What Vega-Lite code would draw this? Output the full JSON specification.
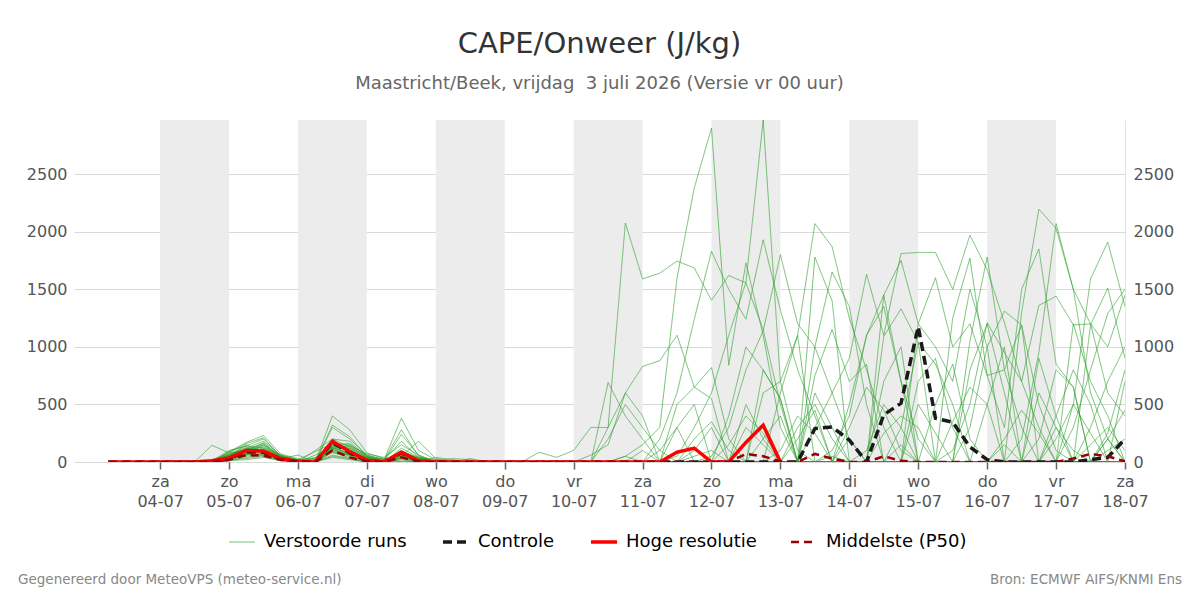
{
"$schema": "https://vega.github.io/schema/vega-lite/v6.json",
"width": 1051, "height": 342,
"autosize": {"type": "none"},
"padding": {"left": 74, "top": 120, "right": 75, "bottom": 138},
"background": "white",
"config": {
  "font": "DejaVu Sans",
  "view": {"stroke": null},
  "legend": {"orient": "bottom", "direction": "horizontal", "labelFontSize": 18, "labelColor": "#000000", "symbolSize": 676, "columnPadding": 29, "labelOffset": 13, "offset": 24, "labelFont": "DejaVu Sans", "layout": {"bottom": {"anchor": "middle"}}}
},
"title": {"text": "CAPE/Onweer (J/kg)", "subtitle": "Maastricht/Beek, vrijdag \u00a03 juli 2026 (Versie vr 00 uur)", "fontSize": 29, "fontWeight": "normal", "color": "#333333", "subtitleFontSize": 18, "subtitleColor": "#666666", "anchor": "middle", "offset": 27, "subtitlePadding": 16, "font": "DejaVu Sans", "subtitleFont": "DejaVu Sans"},
"datasets": {
"bands": [
{"s":"2026-07-04T00:00","e":"2026-07-05T00:00"},
{"s":"2026-07-06T00:00","e":"2026-07-07T00:00"},
{"s":"2026-07-08T00:00","e":"2026-07-09T00:00"},
{"s":"2026-07-10T00:00","e":"2026-07-11T00:00"},
{"s":"2026-07-12T00:00","e":"2026-07-13T00:00"},
{"s":"2026-07-14T00:00","e":"2026-07-15T00:00"},
{"s":"2026-07-16T00:00","e":"2026-07-17T00:00"}
],
"w": [
{"time":"2026-07-03T06:00","ctl":0,"hr":0,"med":0,"a":0,"b":0,"c":0,"d":0,"e":0,"f":0,"g":0,"h":0,"i":0,"j":0,"k":0,"l":0,"m":0,"n":0,"o":0,"p":0,"q":0,"r":0,"s":0,"t":0,"u":0,"v":0,"w":0,"x":0,"y":0,"z":0,"A":0,"B":0},
{"time":"2026-07-03T12:00","ctl":0,"hr":0,"med":0,"a":0,"b":0,"c":0,"d":0,"e":0,"f":0,"g":0,"h":0,"i":0,"j":0,"k":0,"l":0,"m":0,"n":0,"o":0,"p":0,"q":0,"r":0,"s":0,"t":0,"u":0,"v":0,"w":0,"x":0,"y":0,"z":0,"A":0,"B":0},
{"time":"2026-07-03T18:00","ctl":0,"hr":0,"med":0,"a":0,"b":0,"c":0,"d":0,"e":0,"f":0,"g":0,"h":0,"i":0,"j":0,"k":0,"l":0,"m":0,"n":0,"o":0,"p":0,"q":0,"r":0,"s":0,"t":0,"u":0,"v":0,"w":0,"x":0,"y":0,"z":0,"A":0,"B":0},
{"time":"2026-07-04T00:00","ctl":0,"hr":0,"med":0,"a":0,"b":0,"c":0,"d":0,"e":0,"f":0,"g":0,"h":0,"i":0,"j":0,"k":0,"l":0,"m":0,"n":0,"o":0,"p":0,"q":0,"r":0,"s":0,"t":0,"u":0,"v":0,"w":0,"x":0,"y":0,"z":0,"A":0,"B":0},
{"time":"2026-07-04T06:00","ctl":0,"hr":0,"med":0,"a":0,"b":0,"c":0,"d":0,"e":0,"f":0,"g":0,"h":0,"i":0,"j":0,"k":0,"l":0,"m":0,"n":0,"o":0,"p":0,"q":0,"r":0,"s":0,"t":0,"u":0,"v":0,"w":0,"x":0,"y":0,"z":0,"A":0,"B":0},
{"time":"2026-07-04T12:00","ctl":0,"hr":0,"med":0,"a":0,"b":0,"c":0,"d":0,"e":0,"f":0,"g":0,"h":10,"i":0,"j":0,"k":0,"l":0,"m":0,"n":0,"o":0,"p":0,"q":0,"r":0,"s":0,"t":0,"u":0,"v":0,"w":0,"x":0,"y":0,"z":0,"A":0,"B":0},
{"time":"2026-07-04T18:00","ctl":0,"hr":10,"med":0,"a":10,"b":0,"c":145,"d":0,"e":0,"f":10,"g":0,"h":20,"i":0,"j":0,"k":0,"l":0,"m":5,"n":0,"o":0,"p":10,"q":0,"r":0,"s":0,"t":0,"u":0,"v":0,"w":0,"x":0,"y":0,"z":0,"A":0,"B":0},
{"time":"2026-07-05T00:00","ctl":30,"hr":35,"med":20,"a":60,"b":40,"c":80,"d":90,"e":20,"f":100,"g":30,"h":70,"i":50,"j":10,"k":80,"l":40,"m":60,"n":20,"o":70,"p":50,"q":30,"r":60,"s":40,"t":20,"u":90,"v":50,"w":10,"x":60,"y":30,"z":40,"A":30,"B":60},
{"time":"2026-07-05T06:00","ctl":90,"hr":100,"med":60,"a":120,"b":80,"c":100,"d":170,"e":60,"f":140,"g":90,"h":110,"i":150,"j":40,"k":160,"l":70,"m":110,"n":30,"o":130,"p":100,"q":60,"r":120,"s":90,"t":50,"u":140,"v":80,"w":20,"x":100,"y":70,"z":80,"A":70,"B":110},
{"time":"2026-07-05T12:00","ctl":85,"hr":95,"med":55,"a":90,"b":150,"c":60,"d":230,"e":110,"f":200,"g":170,"h":130,"i":80,"j":60,"k":210,"l":100,"m":150,"n":50,"o":90,"p":120,"q":80,"r":180,"s":100,"t":70,"u":120,"v":140,"w":40,"x":90,"y":60,"z":110,"A":90,"B":160},
{"time":"2026-07-05T18:00","ctl":25,"hr":30,"med":20,"a":30,"b":60,"c":20,"d":70,"e":40,"f":50,"g":40,"h":60,"i":30,"j":20,"k":50,"l":30,"m":40,"n":10,"o":30,"p":50,"q":20,"r":60,"s":30,"t":20,"u":50,"v":40,"w":10,"x":30,"y":20,"z":40,"A":30,"B":50},
{"time":"2026-07-06T00:00","ctl":0,"hr":5,"med":5,"a":10,"b":20,"c":0,"d":30,"e":0,"f":20,"g":10,"h":10,"i":60,"j":0,"k":0,"l":10,"m":0,"n":0,"o":20,"p":0,"q":0,"r":20,"s":10,"t":0,"u":10,"v":0,"w":0,"x":0,"y":0,"z":10,"A":0,"B":10},
{"time":"2026-07-06T06:00","ctl":0,"hr":0,"med":0,"a":20,"b":30,"c":10,"d":0,"e":0,"f":90,"g":0,"h":0,"i":0,"j":0,"k":100,"l":0,"m":20,"n":0,"o":0,"p":60,"q":0,"r":0,"s":0,"t":0,"u":40,"v":0,"w":0,"x":30,"y":0,"z":0,"A":0,"B":0},
{"time":"2026-07-06T12:00","ctl":170,"hr":180,"med":100,"a":150,"b":180,"c":90,"d":300,"e":400,"f":160,"g":150,"h":200,"i":120,"j":60,"k":200,"l":130,"m":150,"n":80,"o":170,"p":130,"q":100,"r":320,"s":140,"t":50,"u":120,"v":110,"w":40,"x":160,"y":90,"z":120,"A":110,"B":130},
{"time":"2026-07-06T18:00","ctl":80,"hr":90,"med":40,"a":120,"b":90,"c":60,"d":200,"e":280,"f":150,"g":100,"h":130,"i":80,"j":30,"k":180,"l":70,"m":160,"n":40,"o":110,"p":140,"q":60,"r":220,"s":90,"t":30,"u":120,"v":70,"w":20,"x":100,"y":50,"z":80,"A":60,"B":140},
{"time":"2026-07-07T00:00","ctl":10,"hr":15,"med":5,"a":40,"b":20,"c":30,"d":60,"e":80,"f":60,"g":30,"h":50,"i":40,"j":0,"k":40,"l":20,"m":50,"n":10,"o":30,"p":70,"q":20,"r":50,"s":30,"t":0,"u":40,"v":10,"w":0,"x":30,"y":10,"z":20,"A":20,"B":40},
{"time":"2026-07-07T06:00","ctl":0,"hr":0,"med":0,"a":10,"b":0,"c":0,"d":20,"e":30,"f":20,"g":0,"h":10,"i":30,"j":0,"k":10,"l":0,"m":0,"n":0,"o":0,"p":40,"q":0,"r":20,"s":0,"t":0,"u":10,"v":0,"w":0,"x":0,"y":0,"z":0,"A":0,"B":0},
{"time":"2026-07-07T12:00","ctl":80,"hr":85,"med":40,"a":60,"b":120,"c":30,"d":380,"e":50,"f":280,"g":100,"h":90,"i":0,"j":30,"k":240,"l":50,"m":70,"n":20,"o":70,"p":150,"q":40,"r":180,"s":60,"t":10,"u":60,"v":80,"w":0,"x":40,"y":50,"z":60,"A":40,"B":90},
{"time":"2026-07-07T18:00","ctl":5,"hr":10,"med":5,"a":20,"b":40,"c":10,"d":100,"e":180,"f":50,"g":30,"h":20,"i":0,"j":0,"k":60,"l":30,"m":10,"n":0,"o":40,"p":60,"q":10,"r":40,"s":20,"t":0,"u":30,"v":10,"w":0,"x":20,"y":10,"z":20,"A":10,"B":40},
{"time":"2026-07-08T00:00","ctl":0,"hr":0,"med":0,"a":10,"b":0,"c":0,"d":20,"e":30,"f":10,"g":0,"h":0,"i":40,"j":0,"k":0,"l":10,"m":0,"n":0,"o":20,"p":0,"q":0,"r":0,"s":0,"t":0,"u":0,"v":0,"w":0,"x":0,"y":0,"z":0,"A":0,"B":0},
{"time":"2026-07-08T06:00","ctl":0,"hr":0,"med":0,"a":0,"b":0,"c":0,"d":10,"e":0,"f":30,"g":0,"h":0,"i":20,"j":0,"k":0,"l":0,"m":0,"n":0,"o":0,"p":0,"q":0,"r":0,"s":0,"t":0,"u":0,"v":0,"w":0,"x":0,"y":0,"z":0,"A":0,"B":0},
{"time":"2026-07-08T12:00","ctl":0,"hr":0,"med":0,"a":0,"b":0,"c":0,"d":0,"e":0,"f":20,"g":0,"h":30,"i":0,"j":0,"k":0,"l":0,"m":0,"n":0,"o":0,"p":0,"q":0,"r":0,"s":0,"t":0,"u":0,"v":0,"w":0,"x":0,"y":0,"z":0,"A":0,"B":0},
{"time":"2026-07-08T18:00","ctl":0,"hr":0,"med":0,"a":0,"b":0,"c":0,"d":0,"e":0,"f":0,"g":0,"h":0,"i":0,"j":0,"k":0,"l":10,"m":0,"n":0,"o":0,"p":0,"q":0,"r":0,"s":0,"t":0,"u":0,"v":0,"w":0,"x":0,"y":0,"z":0,"A":0,"B":0},
{"time":"2026-07-09T00:00","ctl":0,"hr":0,"med":0,"a":0,"b":0,"c":0,"d":0,"e":0,"f":0,"g":0,"h":0,"i":0,"j":0,"k":0,"l":0,"m":0,"n":0,"o":0,"p":0,"q":0,"r":0,"s":0,"t":0,"u":0,"v":0,"w":0,"x":0,"y":0,"z":0,"A":0,"B":0},
{"time":"2026-07-09T06:00","ctl":0,"hr":0,"med":0,"a":0,"b":0,"c":0,"d":0,"e":0,"f":0,"g":0,"h":0,"i":0,"j":0,"k":0,"l":0,"m":0,"n":0,"o":0,"p":0,"q":0,"r":0,"s":0,"t":0,"u":0,"v":0,"w":0,"x":0,"y":0,"z":0,"A":0,"B":0},
{"time":"2026-07-09T12:00","ctl":0,"hr":0,"med":0,"a":0,"b":0,"c":85,"d":0,"e":0,"f":0,"g":0,"h":0,"i":0,"j":0,"k":0,"l":0,"m":0,"n":0,"o":0,"p":0,"q":0,"r":0,"s":0,"t":0,"u":0,"v":0,"w":0,"x":0,"y":0,"z":0,"A":0,"B":0},
{"time":"2026-07-09T18:00","ctl":0,"hr":0,"med":0,"a":0,"b":0,"c":40,"d":0,"e":0,"f":0,"g":0,"h":0,"i":0,"j":0,"k":0,"l":0,"m":0,"n":0,"o":0,"p":0,"q":0,"r":0,"s":0,"t":0,"u":0,"v":0,"w":0,"x":0,"y":0,"z":0,"A":0,"B":0},
{"time":"2026-07-10T00:00","ctl":0,"hr":0,"med":0,"a":0,"b":0,"c":100,"d":0,"e":0,"f":0,"g":0,"h":0,"i":0,"j":0,"k":0,"l":0,"m":0,"n":0,"o":0,"p":0,"q":0,"r":0,"s":0,"t":0,"u":0,"v":0,"w":0,"x":0,"y":0,"z":0,"A":0,"B":0},
{"time":"2026-07-10T06:00","ctl":0,"hr":0,"med":0,"a":0,"b":0,"c":300,"d":0,"e":0,"f":0,"g":0,"h":60,"i":0,"j":0,"k":0,"l":0,"m":0,"n":0,"o":0,"p":0,"q":0,"r":0,"s":0,"t":0,"u":0,"v":0,"w":0,"x":0,"y":0,"z":0,"A":0,"B":0},
{"time":"2026-07-10T12:00","ctl":0,"hr":0,"med":0,"a":0,"b":0,"c":300,"d":0,"e":0,"f":0,"g":0,"h":150,"i":0,"j":0,"k":690,"l":0,"m":0,"n":0,"o":200,"p":0,"q":0,"r":0,"s":0,"t":0,"u":0,"v":0,"w":0,"x":300,"y":0,"z":0,"A":0,"B":0},
{"time":"2026-07-10T18:00","ctl":0,"hr":0,"med":0,"a":50,"b":0,"c":2075,"d":0,"e":0,"f":0,"g":0,"h":600,"i":0,"j":0,"k":400,"l":0,"m":0,"n":0,"o":500,"p":0,"q":0,"r":0,"s":0,"t":0,"u":0,"v":0,"w":0,"x":600,"y":0,"z":50,"A":0,"B":0},
{"time":"2026-07-11T00:00","ctl":0,"hr":0,"med":0,"a":150,"b":0,"c":1590,"d":0,"e":0,"f":0,"g":0,"h":830,"i":0,"j":0,"k":200,"l":0,"m":0,"n":0,"o":300,"p":0,"q":0,"r":0,"s":0,"t":100,"u":0,"v":0,"w":0,"x":400,"y":0,"z":0,"A":0,"B":0},
{"time":"2026-07-11T06:00","ctl":0,"hr":0,"med":0,"a":300,"b":0,"c":1640,"d":200,"e":0,"f":0,"g":0,"h":880,"i":0,"j":0,"k":0,"l":0,"m":0,"n":0,"o":100,"p":0,"q":0,"r":0,"s":0,"t":0,"u":0,"v":0,"w":0,"x":0,"y":0,"z":0,"A":0,"B":100},
{"time":"2026-07-11T12:00","ctl":0,"hr":85,"med":0,"a":1600,"b":50,"c":1745,"d":600,"e":0,"f":0,"g":0,"h":1100,"i":0,"j":0,"k":0,"l":0,"m":500,"n":0,"o":0,"p":300,"q":0,"r":0,"s":0,"t":0,"u":0,"v":0,"w":0,"x":0,"y":0,"z":0,"A":0,"B":300},
{"time":"2026-07-11T18:00","ctl":0,"hr":120,"med":0,"a":2380,"b":300,"c":1685,"d":1240,"e":0,"f":0,"g":0,"h":650,"i":0,"j":0,"k":0,"l":0,"m":650,"n":50,"o":0,"p":500,"q":0,"r":0,"s":0,"t":200,"u":0,"v":100,"w":0,"x":0,"y":0,"z":0,"A":0,"B":0},
{"time":"2026-07-12T00:00","ctl":0,"hr":0,"med":0,"a":2900,"b":600,"c":1405,"d":1830,"e":50,"f":0,"g":0,"h":820,"i":0,"j":0,"k":0,"l":0,"m":550,"n":100,"o":0,"p":0,"q":0,"r":0,"s":0,"t":350,"u":0,"v":300,"w":0,"x":0,"y":0,"z":0,"A":0,"B":0},
{"time":"2026-07-12T06:00","ctl":0,"hr":0,"med":0,"a":840,"b":1100,"c":1620,"d":1500,"e":300,"f":0,"g":0,"h":200,"i":0,"j":0,"k":0,"l":0,"m":0,"n":0,"o":0,"p":0,"q":0,"r":0,"s":400,"t":100,"u":0,"v":0,"w":0,"x":0,"y":150,"z":0,"A":0,"B":0},
{"time":"2026-07-12T12:00","ctl":0,"hr":170,"med":70,"a":1730,"b":1560,"c":1555,"d":1240,"e":800,"f":0,"g":0,"h":0,"i":0,"j":0,"k":0,"l":0,"m":0,"n":0,"o":0,"p":0,"q":0,"r":0,"s":1000,"t":0,"u":0,"v":0,"w":0,"x":300,"y":400,"z":0,"A":0,"B":500},
{"time":"2026-07-12T18:00","ctl":0,"hr":320,"med":50,"a":1100,"b":2970,"c":1150,"d":1930,"e":1140,"f":0,"g":0,"h":0,"i":0,"j":0,"k":0,"l":0,"m":600,"n":0,"o":0,"p":800,"q":0,"r":0,"s":800,"t":0,"u":0,"v":0,"w":0,"x":150,"y":250,"z":200,"A":0,"B":200},
{"time":"2026-07-13T00:00","ctl":0,"hr":0,"med":5,"a":300,"b":700,"c":500,"d":1320,"e":1800,"f":600,"g":0,"h":0,"i":0,"j":0,"k":0,"l":0,"m":700,"n":0,"o":0,"p":550,"q":0,"r":0,"s":550,"t":0,"u":0,"v":0,"w":0,"x":0,"y":0,"z":400,"A":100,"B":0},
{"time":"2026-07-13T06:00","ctl":0,"med":0,"a":0,"b":100,"c":0,"d":800,"e":1200,"f":1100,"g":0,"h":0,"i":0,"j":0,"k":0,"l":0,"m":1100,"n":0,"o":200,"p":0,"q":0,"r":0,"s":0,"t":300,"u":0,"v":0,"w":0,"x":0,"y":0,"z":0,"A":400,"B":0},
{"time":"2026-07-13T12:00","ctl":290,"med":70,"a":0,"b":0,"c":0,"d":400,"e":1000,"f":2070,"g":300,"h":0,"i":1000,"j":0,"k":1780,"l":0,"m":0,"n":0,"o":450,"p":0,"q":750,"r":0,"s":0,"t":500,"u":0,"v":600,"w":0,"x":0,"y":0,"z":0,"A":250,"B":0},
{"time":"2026-07-13T18:00","ctl":305,"med":30,"a":100,"b":0,"c":0,"d":0,"e":600,"f":1870,"g":600,"h":0,"i":1650,"j":0,"k":1400,"l":0,"m":0,"n":50,"o":0,"p":0,"q":1150,"r":0,"s":0,"t":200,"u":0,"v":300,"w":0,"x":0,"y":0,"z":0,"A":0,"B":0},
{"time":"2026-07-14T00:00","ctl":190,"med":0,"a":400,"b":0,"c":0,"d":0,"e":200,"f":1250,"g":900,"h":0,"i":1350,"j":0,"k":0,"l":0,"m":0,"n":0,"o":0,"p":0,"q":700,"r":0,"s":0,"t":0,"u":500,"v":0,"w":0,"x":0,"y":300,"z":200,"A":0,"B":0},
{"time":"2026-07-14T06:00","ctl":0,"med":0,"a":1100,"b":0,"c":0,"d":0,"e":0,"f":800,"g":1630,"h":0,"i":500,"j":0,"k":0,"l":0,"m":0,"n":0,"o":0,"p":0,"q":850,"r":0,"s":0,"t":0,"u":1100,"v":0,"w":100,"x":0,"y":650,"z":0,"A":0,"B":0},
{"time":"2026-07-14T12:00","ctl":410,"med":50,"a":1350,"b":0,"c":0,"d":0,"e":0,"f":300,"g":1100,"h":0,"i":0,"j":1450,"k":0,"l":0,"m":0,"n":0,"o":0,"p":1090,"q":0,"r":0,"s":0,"t":250,"u":1450,"v":0,"w":500,"x":0,"y":450,"z":0,"A":0,"B":700},
{"time":"2026-07-14T18:00","ctl":510,"med":10,"a":700,"b":300,"c":0,"d":0,"e":0,"f":0,"g":1810,"h":0,"i":0,"j":1750,"k":0,"l":0,"m":0,"n":150,"o":0,"p":1330,"q":0,"r":0,"s":0,"t":400,"u":700,"v":0,"w":300,"x":0,"y":100,"z":0,"A":0,"B":1000},
{"time":"2026-07-15T00:00","ctl":1175,"med":0,"a":200,"b":1040,"c":0,"d":0,"e":0,"f":0,"g":1820,"h":0,"i":0,"j":1200,"k":0,"l":0,"m":0,"n":0,"o":0,"p":1040,"q":0,"r":1200,"s":0,"t":300,"u":0,"v":0,"w":0,"x":500,"y":0,"z":700,"A":0,"B":0},
{"time":"2026-07-15T06:00","ctl":380,"med":0,"a":0,"b":850,"c":0,"d":0,"e":0,"f":0,"g":1820,"h":0,"i":0,"j":1000,"k":0,"l":0,"m":0,"n":0,"o":0,"p":0,"q":0,"r":1600,"s":0,"t":0,"u":0,"v":500,"w":0,"x":250,"y":0,"z":900,"A":0,"B":0},
{"time":"2026-07-15T12:00","ctl":345,"med":0,"a":0,"b":500,"c":100,"d":0,"e":0,"f":0,"g":1500,"h":0,"i":0,"j":700,"k":0,"l":1250,"m":0,"n":0,"o":0,"p":0,"q":0,"r":1000,"s":0,"t":0,"u":0,"v":850,"w":0,"x":0,"y":350,"z":300,"A":0,"B":0},
{"time":"2026-07-15T18:00","ctl":130,"med":0,"a":300,"b":0,"c":500,"d":0,"e":1050,"f":0,"g":1970,"h":0,"i":0,"j":1500,"k":0,"l":1770,"m":0,"n":0,"o":0,"p":0,"q":0,"r":1200,"s":0,"t":0,"u":0,"v":200,"w":0,"x":0,"y":650,"z":0,"A":800,"B":0},
{"time":"2026-07-16T00:00","ctl":20,"med":0,"a":1000,"b":0,"c":1210,"d":0,"e":1780,"f":0,"g":1670,"h":0,"i":0,"j":1000,"k":0,"l":750,"m":0,"n":0,"o":0,"p":0,"q":0,"r":750,"s":0,"t":0,"u":0,"v":0,"w":500,"x":0,"y":500,"z":0,"A":1200,"B":0},
{"time":"2026-07-16T06:00","ctl":0,"med":0,"a":1310,"b":0,"c":950,"d":0,"e":800,"f":0,"g":1210,"h":0,"i":0,"j":0,"k":0,"l":300,"m":0,"n":0,"o":0,"p":0,"q":0,"r":800,"s":0,"t":200,"u":0,"v":0,"w":1000,"x":0,"y":0,"z":150,"A":600,"B":0},
{"time":"2026-07-16T12:00","ctl":0,"med":0,"a":1190,"b":0,"c":700,"d":0,"e":300,"f":200,"g":700,"h":0,"i":1300,"j":0,"k":0,"l":1500,"m":0,"n":0,"o":0,"p":0,"q":0,"r":1190,"s":0,"t":450,"u":0,"v":0,"w":0,"x":0,"y":0,"z":0,"A":0,"B":0},
{"time":"2026-07-16T18:00","ctl":0,"med":0,"a":500,"b":200,"c":1360,"d":0,"e":0,"f":950,"g":300,"h":0,"i":2195,"j":0,"k":0,"l":1850,"m":0,"n":0,"o":900,"p":0,"q":0,"r":0,"s":0,"t":250,"u":0,"v":0,"w":0,"x":0,"y":0,"z":0,"A":0,"B":600},
{"time":"2026-07-17T00:00","ctl":0,"med":0,"a":100,"b":800,"c":1440,"d":0,"e":0,"f":2070,"g":0,"h":0,"i":2030,"j":0,"k":0,"l":850,"m":200,"n":0,"o":400,"p":0,"q":0,"r":0,"s":0,"t":0,"u":0,"v":0,"w":0,"x":300,"y":400,"z":0,"A":0,"B":300},
{"time":"2026-07-17T06:00","ctl":0,"med":30,"a":0,"b":650,"c":1190,"d":300,"e":0,"f":1500,"g":0,"h":0,"i":1500,"j":0,"k":500,"l":650,"m":500,"n":0,"o":0,"p":0,"q":0,"r":0,"s":0,"t":0,"u":0,"v":1200,"w":0,"x":100,"y":800,"z":0,"A":0,"B":0},
{"time":"2026-07-17T12:00","ctl":20,"med":70,"a":0,"b":0,"c":1200,"d":800,"e":0,"f":1200,"g":0,"h":300,"i":600,"j":0,"k":1590,"l":0,"m":250,"n":0,"o":0,"p":0,"q":0,"r":0,"s":1190,"t":150,"u":0,"v":700,"w":0,"x":0,"y":500,"z":0,"A":0,"B":0},
{"time":"2026-07-17T18:00","ctl":40,"med":50,"a":200,"b":0,"c":600,"d":1290,"e":0,"f":1000,"g":0,"h":700,"i":200,"j":0,"k":1910,"l":0,"m":0,"n":100,"o":0,"p":0,"q":0,"r":0,"s":1510,"t":300,"u":0,"v":400,"w":200,"x":0,"y":0,"z":250,"A":0,"B":0},
{"time":"2026-07-18T00:00","ctl":200,"med":5,"a":0,"b":0,"c":400,"d":1500,"e":0,"f":1450,"g":0,"h":1000,"i":0,"j":0,"k":1350,"l":0,"m":0,"n":200,"o":0,"p":0,"q":700,"r":0,"s":900,"t":100,"u":0,"v":0,"w":450,"x":0,"y":0,"z":800,"A":0,"B":0}
]
},
"resolve": {"axis": {"y": "independent"}},
"layer": [
{
  "data": {"name": "bands"},
  "mark": {"type": "rect", "color": "#ececec"},
  "encoding": {
    "x": {"field": "s", "type": "temporal", "title": null,
      "scale": {"domain": [{"year": 2026, "month": 7, "date": 2, "hours": 18}, {"year": 2026, "month": 7, "date": 18, "hours": 0}]},
      "axis": {"values": [{"year":2026,"month":7,"date":4},{"year":2026,"month":7,"date":5},{"year":2026,"month":7,"date":6},{"year":2026,"month":7,"date":7},{"year":2026,"month":7,"date":8},{"year":2026,"month":7,"date":9},{"year":2026,"month":7,"date":10},{"year":2026,"month":7,"date":11},{"year":2026,"month":7,"date":12},{"year":2026,"month":7,"date":13},{"year":2026,"month":7,"date":14},{"year":2026,"month":7,"date":15},{"year":2026,"month":7,"date":16},{"year":2026,"month":7,"date":17},{"year":2026,"month":7,"date":18}],
        "labelExpr": "[['zo','ma','di','wo','do','vr','za'][day(datum.value)], timeFormat(datum.value, '%d-%m')]",
        "grid": false, "domain": false, "ticks": true, "tickColor": "#666666", "tickSize": 7, "tickWidth": 1.5,
        "labelFontSize": 16, "labelColor": "#555555", "labelPadding": 4, "labelLineHeight": 20, "labelFont": "DejaVu Sans", "labelFlush": false, "labelOverlap": false}},
    "x2": {"field": "e"}
  }
},
{
  "data": {"name": "w"},
  "transform": [{"fold": ["a","b","c","d","e","f","g","h","i","j","k","l","m","n","o","p","q","r","s","t","u","v","w","x","y","z","A","B"], "as": ["member", "value"]}],
  "mark": {"type": "line", "clip": true, "strokeWidth": 1},
  "encoding": {
    "x": {"field": "time", "type": "temporal", "title": null},
    "y": {"field": "value", "type": "quantitative", "title": null, "scale": {"domain": [0, 2970], "nice": false},
      "axis": {"orient": "left", "values": [0, 500, 1000, 1500, 2000, 2500], "format": "d", "grid": true, "gridColor": "#d9d9d9", "domain": false, "ticks": false, "labelFontSize": 16, "labelColor": "#555555", "labelPadding": 7, "labelFont": "DejaVu Sans"}},
    "detail": {"field": "member"},
    "color": {"datum": "Verstoorde runs", "type": "nominal", "title": null,
      "scale": {"domain": ["Verstoorde runs", "Controle", "Hoge resolutie", "Middelste (P50)"], "range": ["rgba(44,160,44,0.65)", "#1a1a1a", "#ff0000", "#990000"]},
      "legend": {"encode": {"symbols": {"update": {"strokeWidth": {"signal": "datum.value == 'Verstoorde runs' ? 1.2 : (datum.value == 'Middelste (P50)' ? 2.5 : 3.5)"}}}}}},
    "strokeDash": {"datum": "Verstoorde runs", "type": "nominal", "title": null,
      "scale": {"domain": ["Verstoorde runs", "Controle", "Hoge resolutie", "Middelste (P50)"], "range": [[1, 0], [9, 5], [1, 0], [8, 5]]}}
  }
},
{
  "data": {"name": "w"},
  "mark": {"type": "line", "clip": true, "strokeWidth": 3.5},
  "encoding": {
    "x": {"field": "time", "type": "temporal", "title": null},
    "y": {"field": "ctl", "type": "quantitative", "axis": null},
    "color": {"datum": "Controle", "type": "nominal", "title": null},
    "strokeDash": {"datum": "Controle", "type": "nominal", "title": null}
  }
},
{
  "data": {"name": "w"},
  "mark": {"type": "line", "clip": true, "strokeWidth": 3.5},
  "encoding": {
    "x": {"field": "time", "type": "temporal", "title": null},
    "y": {"field": "hr", "type": "quantitative", "title": null,
      "axis": {"orient": "right", "values": [0, 500, 1000, 1500, 2000, 2500], "format": "d", "grid": false, "domain": true, "domainColor": "#e3e3e3", "ticks": false, "labelFontSize": 16, "labelColor": "#555555", "labelPadding": 8, "labelFont": "DejaVu Sans"}},
    "color": {"datum": "Hoge resolutie", "type": "nominal", "title": null},
    "strokeDash": {"datum": "Hoge resolutie", "type": "nominal", "title": null}
  }
},
{
  "data": {"name": "w"},
  "mark": {"type": "line", "clip": true, "strokeWidth": 2.5},
  "encoding": {
    "x": {"field": "time", "type": "temporal", "title": null},
    "y": {"field": "med", "type": "quantitative", "axis": null},
    "color": {"datum": "Middelste (P50)", "type": "nominal", "title": null},
    "strokeDash": {"datum": "Middelste (P50)", "type": "nominal", "title": null}
  }
},
{
  "data": {"values": [{}]},
  "mark": {"type": "text", "align": "left", "baseline": "middle", "fontSize": 13.5, "color": "#888888", "font": "DejaVu Sans"},
  "encoding": {
    "x": {"datum": {"year": 2026, "month": 7, "date": 1, "hours": 22, "minutes": 30}, "type": "temporal", "title": null},
    "y": {"datum": -1025, "type": "quantitative", "axis": null},
    "text": {"value": "Gegenereerd door MeteoVPS (meteo-service.nl)"}
  }
},
{
  "data": {"values": [{}]},
  "mark": {"type": "text", "align": "right", "baseline": "middle", "fontSize": 13.5, "color": "#888888", "font": "DejaVu Sans"},
  "encoding": {
    "x": {"datum": {"year": 2026, "month": 7, "date": 18, "hours": 19, "minutes": 51}, "type": "temporal", "title": null},
    "y": {"datum": -1025, "type": "quantitative", "axis": null},
    "text": {"value": "Bron: ECMWF AIFS/KNMI Ens"}
  }
}
]
}
